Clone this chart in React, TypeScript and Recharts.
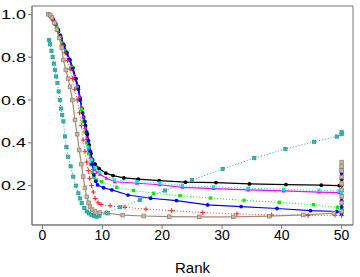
import React from "react";
import { LineChart, Line, XAxis, YAxis, ReferenceArea } from "recharts";

// rank / value pairs
const blackPts: [number, number][] = [
  [1, 1], [1.3, 0.995], [1.7, 0.98], [2.2, 0.955], [2.65, 0.927], [3.1, 0.89], [3.6, 0.855],
  [4.1, 0.82], [4.6, 0.787], [5.1, 0.75], [5.6, 0.7], [6.0, 0.662], [6.3, 0.61], [6.6, 0.56],
  [6.9, 0.52], [7.2, 0.48], [7.5, 0.44], [7.8, 0.39], [8.1, 0.35], [8.4, 0.32], [8.8, 0.3],
  [9.45, 0.28], [10.6, 0.258], [11.8, 0.247], [13.6, 0.236], [16, 0.23], [19.5, 0.223],
  [23.9, 0.216], [29, 0.214], [34.6, 0.208], [40.7, 0.205], [46.6, 0.202], [49.6, 0.2],
  [50, 0.2], [50, 0.23], [50, 0.26],
];
const magentaPts: [number, number][] = [
  [1, 1], [1.4, 0.99], [1.9, 0.97], [2.4, 0.94], [2.9, 0.905], [3.4, 0.865], [3.9, 0.83],
  [4.4, 0.795], [4.9, 0.755], [5.4, 0.71], [5.8, 0.665], [6.2, 0.615], [6.5, 0.57], [6.8, 0.52],
  [7.1, 0.47], [7.4, 0.42], [7.7, 0.37], [8.0, 0.33], [8.3, 0.3], [8.7, 0.275], [9.1, 0.262],
  [9.6, 0.253], [10.7, 0.234], [12.1, 0.218], [15.8, 0.211], [19.6, 0.204], [23.4, 0.192],
  [28.6, 0.186], [34.4, 0.18], [40.3, 0.175], [46.2, 0.17], [49.6, 0.167], [50, 0.16], [50, 0.147],
];
const cyanPts: [number, number][] = [
  [7.6, 0.38], [8.2, 0.32], [8.8, 0.285], [9.5, 0.262], [12, 0.226], [15.8, 0.219],
  [19.6, 0.212], [23.4, 0.2], [28.6, 0.194], [34.4, 0.188], [40.3, 0.183], [46.2, 0.178],
  [49.6, 0.175], [50, 0.17],
];
const greenPts: [number, number][] = [
  [1, 1], [1.4, 0.99], [1.9, 0.968], [2.4, 0.94], [2.9, 0.905], [3.4, 0.865], [3.9, 0.828],
  [4.4, 0.79], [4.9, 0.75], [5.4, 0.7], [5.8, 0.655], [6.2, 0.6], [6.5, 0.555], [6.8, 0.5],
  [7.1, 0.45], [7.4, 0.4], [7.7, 0.35], [8.0, 0.3], [8.3, 0.262], [8.6, 0.238], [9.0, 0.226],
  [9.9, 0.218], [12.4, 0.192], [15.2, 0.177], [18.6, 0.164], [23, 0.153], [28.1, 0.142],
  [33.7, 0.131], [39.6, 0.122], [45.3, 0.111], [49.3, 0.099], [50, 0.09], [50, 0.08],
];
const bluePts: [number, number][] = [
  [1, 1], [1.4, 0.99], [1.8, 0.975], [2.2, 0.955], [2.6, 0.93], [3.0, 0.9], [3.5, 0.86],
  [4.0, 0.822], [4.5, 0.79], [5.0, 0.745], [5.5, 0.7], [6.0, 0.65], [6.3, 0.6], [6.7, 0.54],
  [7.1, 0.5], [7.4, 0.45], [7.7, 0.41], [8.0, 0.36], [8.3, 0.3], [8.6, 0.25], [8.9, 0.22],
  [9.2, 0.203], [10.2, 0.19], [11.6, 0.18], [14.3, 0.156], [18.1, 0.141], [22.4, 0.13],
  [27.6, 0.11], [33.2, 0.102], [39.2, 0.093], [44.8, 0.083], [49.2, 0.079], [50, 0.07],
  [50, 0.1], [50, 0.13], [50, 0.25], [50, 0.28],
];
const redPts: [number, number][] = [
  [1, 1], [1.4, 0.99], [1.8, 0.97], [2.2, 0.95], [2.6, 0.92], [3.0, 0.89], [3.4, 0.855],
  [3.8, 0.82], [4.2, 0.785], [4.6, 0.745], [5.0, 0.7], [5.4, 0.65], [5.8, 0.6], [6.2, 0.54],
  [6.5, 0.48], [6.8, 0.413], [7.1, 0.36], [7.4, 0.31], [7.66, 0.27], [7.9, 0.234], [8.2, 0.2],
  [8.5, 0.17], [8.8, 0.14], [9.3, 0.12], [9.8, 0.112], [11.3, 0.106], [13.8, 0.099],
  [17.3, 0.09], [21.6, 0.083], [26.8, 0.074], [32.5, 0.068], [38.3, 0.063], [44.4, 0.06],
  [48.9, 0.062], [50, 0.06], [50, 0.2], [50, 0.27],
];
const brownPts: [number, number][] = [
  [1, 1], [1.3, 0.995], [1.6, 0.985], [2.0, 0.96], [2.4, 0.93], [2.8, 0.89], [3.2, 0.845],
  [3.5, 0.787], [3.9, 0.74], [4.3, 0.7], [4.6, 0.662], [5.0, 0.6], [5.43, 0.507], [5.8, 0.44],
  [6.15, 0.366], [6.5, 0.3], [6.8, 0.242], [7.1, 0.19], [7.4, 0.148], [7.7, 0.12], [7.94, 0.102],
  [8.3, 0.088], [8.8, 0.079], [9.6, 0.074], [10.9, 0.071], [13.4, 0.062], [16.9, 0.058],
  [21.2, 0.055], [26.2, 0.054], [31.9, 0.054], [37.9, 0.057], [43.6, 0.063], [48.7, 0.071],
  [50, 0.08], [50, 0.12], [50, 0.15], [50, 0.18], [50, 0.21], [50, 0.24], [50, 0.27],
  [50, 0.29], [50, 0.31],
];
const tealPts: [number, number][] = [
  [1.1, 0.88], [1.3, 0.86], [1.5, 0.83], [1.7, 0.8], [1.9, 0.77], [2.1, 0.74], [2.3, 0.71],
  [2.5, 0.68], [2.7, 0.64], [2.9, 0.6], [3.1, 0.56], [3.3, 0.53], [3.5, 0.5], [3.75, 0.43],
  [4.0, 0.38], [4.3, 0.335], [4.7, 0.29], [5.15, 0.242], [5.6, 0.2], [6.0, 0.164], [6.3, 0.14],
  [6.55, 0.118], [7.0, 0.095], [7.4, 0.079], [7.8, 0.07], [8.2, 0.063], [8.6, 0.058],
  [9.06, 0.055], [9.5, 0.058], [10.7, 0.074], [13, 0.099], [16.3, 0.133], [20.5, 0.177],
  [25, 0.226], [30.1, 0.278], [35.4, 0.328], [40.6, 0.371], [45.4, 0.405], [49.2, 0.429],
  [50, 0.44], [50, 0.45],
];

const xTicks = [0, 10, 20, 30, 40, 50];
const yTicks = [0.2, 0.4, 0.6, 0.8, 1.0];

const X_MIN = -1.75;
const X_MAX = 51.9;
const Y_MIN = 0.016;
const Y_MAX = 1.039;

const toRows = (pts: [number, number][]) => pts.map(([x, y]) => ({ x, y }));

type Shape = "circle" | "triangle" | "square" | "openSquare" | "plus" | "boxX";

const makeDot = (shape: Shape, color: string, fill?: string) => (p: any) => {
  const { cx, cy, index } = p;
  const key = `${shape}-${color}-${index}`;
  if (cx == null || cy == null) return <g key={key} />;
  switch (shape) {
    case "circle":
      return <circle key={key} cx={cx} cy={cy} r={1.9} fill={color} />;
    case "triangle":
      return (
        <polygon
          key={key}
          points={`${cx},${cy - 2.2} ${cx - 2.1},${cy + 1.5} ${cx + 2.1},${cy + 1.5}`}
          fill={color}
        />
      );
    case "square":
      return <rect key={key} x={cx - 1.7} y={cy - 1.7} width={3.4} height={3.4} fill={color} />;
    case "openSquare":
      return (
        <rect key={key} x={cx - 1.8} y={cy - 1.8} width={3.6} height={3.6} fill={fill} stroke={color} strokeWidth={0.8} />
      );
    case "plus":
      return (
        <g key={key} stroke={color} strokeWidth={1}>
          <line x1={cx - 2.4} y1={cy} x2={cx + 2.4} y2={cy} />
          <line x1={cx} y1={cy - 2.4} x2={cx} y2={cy + 2.4} />
        </g>
      );
    case "boxX":
      return (
        <g key={key} stroke={color} strokeWidth={0.7} fill={fill}>
          <rect x={cx - 1.6} y={cy - 1.6} width={3.2} height={3.2} />
          <line x1={cx - 1.6} y1={cy - 1.6} x2={cx + 1.6} y2={cy + 1.6} />
          <line x1={cx - 1.6} y1={cy + 1.6} x2={cx + 1.6} y2={cy - 1.6} />
        </g>
      );
  }
};

const font = "'Liberation Sans', Arial, sans-serif";

// y labels in the source are drawn wide, so stretch them horizontally
const YTick = (props: any) => {
  const { x, y, payload } = props;
  return (
    <text
      x={0}
      y={0}
      dy={4.6}
      textAnchor="end"
      fontSize={13}
      fontFamily={font}
      fill="#000"
      transform={`translate(${x - 1},${y}) scale(1.38,1)`}
    >
      {Number(payload.value).toFixed(1)}
    </text>
  );
};

export default function App() {
  return (
    <div style={{ position: "fixed", left: 0, top: 0, background: "#fff" }}>
      <LineChart width={360} height={277} margin={{ top: 6, right: 7, bottom: 0, left: 0 }}>
        <XAxis
          type="number"
          dataKey="x"
          domain={[X_MIN, X_MAX]}
          ticks={xTicks}
          allowDataOverflow
          height={52}
          stroke="#777"
          tickSize={4}
          tickMargin={1}
          tick={{ fill: "#000", fontSize: 14, fontFamily: font }}
          label={{ value: "Rank", position: "insideBottom", offset: 4, fill: "#000", fontSize: 15, fontFamily: font }}
        />
        <YAxis
          type="number"
          domain={[Y_MIN, Y_MAX]}
          ticks={yTicks}
          allowDataOverflow
          width={32}
          stroke="#777"
          tickSize={4}
          tickMargin={1}
          tick={<YTick />}
        />
        <ReferenceArea x1={X_MIN} x2={X_MAX} y1={Y_MIN} y2={Y_MAX} fill="none" stroke="#777" strokeWidth={1} />
        <Line data={toRows(blackPts)} dataKey="y" stroke="#000" strokeWidth={1.2} dot={makeDot("circle", "#000")} isAnimationActive={false} />
        <Line data={toRows(magentaPts)} dataKey="y" stroke="#ff00ff" strokeWidth={1.2} dot={makeDot("triangle", "#ff00ff")} isAnimationActive={false} />
        <Line data={toRows(cyanPts)} dataKey="y" stroke="#00e5ee" strokeWidth={1} strokeDasharray="1 2" dot={makeDot("square", "#00e5ee")} isAnimationActive={false} />
        <Line data={toRows(greenPts)} dataKey="y" stroke="#00ee00" strokeWidth={1} strokeDasharray="1 2" dot={makeDot("square", "#00ee00")} isAnimationActive={false} />
        <Line data={toRows(bluePts)} dataKey="y" stroke="#0000ff" strokeWidth={1.2} dot={makeDot("circle", "#0000ff")} isAnimationActive={false} />
        <Line data={toRows(redPts)} dataKey="y" stroke="#ff3030" strokeWidth={1} strokeDasharray="1 2" dot={makeDot("plus", "#ff2020")} isAnimationActive={false} />
        <Line data={toRows(brownPts)} dataKey="y" stroke="#a08a74" strokeWidth={1.2} dot={makeDot("openSquare", "#9a8470", "#c8b8a6")} isAnimationActive={false} />
        <Line data={toRows(tealPts)} dataKey="y" stroke="#1aa0a0" strokeWidth={1} strokeDasharray="1 2" dot={makeDot("boxX", "#149494", "#7cc8c8")} isAnimationActive={false} />
      </LineChart>
    </div>
  );
}
